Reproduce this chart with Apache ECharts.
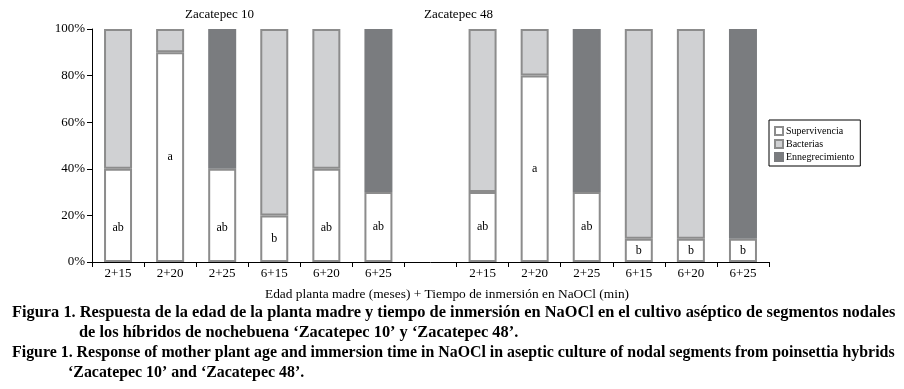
<!DOCTYPE html>
<html><head><meta charset="utf-8">
<script src="https://cdn.jsdelivr.net/npm/echarts@6/dist/echarts.min.js"></script>
<style>html,body{margin:0;padding:0;background:#fff}#c{width:904px;height:389px}</style>
</head><body><div id="c"></div>
<script>
const categories = ["2+15","2+20","2+25","6+15","6+20","6+25","","2+15","2+20","2+25","6+15","6+20","6+25"];
const supervivencia = [40,90,40,20,40,30,null,30,80,30,10,10,10];
const bacterias = [60,10,0,80,60,0,null,70,20,0,90,90,0];
const ennegrecimiento = [0,0,60,0,0,70,null,0,0,70,0,0,90];
const letters = ["ab","a","ab","b","ab","ab","","ab","a","ab","b","b","b"];
const groupTitles = ["Zacatepec 10","Zacatepec 48"];
const xAxisName = "Edad planta madre (meses) + Tiempo de inmersión en NaOCl (min)";
const captionLines = [
  "Figura 1. Respuesta de la edad de la planta madre y tiempo de inmersión en NaOCl en el cultivo aséptico de segmentos nodales",
  "de los híbridos de nochebuena ‘Zacatepec 10’ y ‘Zacatepec 48’.",
  "Figure 1. Response of mother plant age and immersion time in NaOCl in aseptic culture of nodal segments from poinsettia hybrids",
  "‘Zacatepec 10’ and ‘Zacatepec 48’."
];

const SERIF = '"Liberation Serif", "DejaVu Serif", serif';
const clean = v => (v === null || v === 0) ? '-' : v;

const chart = echarts.init(document.getElementById('c'), null, {renderer:'canvas'});
const barCommon = {type:'bar', stack:'t', barWidth:28, animation:false};

function capText(i, x, y, sx) {
  return {type:'text', x:x, y:y, scaleX:sx, style:{text:captionLines[i], font:'bold 17px '+SERIF, fill:'#000', verticalAlign:'middle'}};
}

chart.setOption({
  animation:false,
  grid:{left:92, right:135, top:29, bottom:127},
  legend:{
    orient:'vertical', left:769, top:120, icon:'rect', itemWidth:8, itemHeight:8, itemGap:3,
    borderColor:'#000', borderWidth:1, borderRadius:0, padding:[6,6,4,5],
    textStyle:{fontFamily:SERIF, fontSize:10, color:'#000', padding:[0,0,0,-2]},
    data:['Supervivencia','Bacterias','Ennegrecimiento']
  },
  xAxis:{
    type:'category', data:categories,
    axisLine:{lineStyle:{color:'#000', width:1}},
    axisTick:{show:true, length:5, lineStyle:{color:'#000'}, interval:0},
    axisLabel:{fontFamily:SERIF, fontSize:13, color:'#000', margin:5, interval:0}
  },
  yAxis:{
    type:'value', min:0, max:100, interval:20,
    splitLine:{show:false},
    axisLine:{show:true, lineStyle:{color:'#000', width:1}},
    axisTick:{show:true, length:5, lineStyle:{color:'#000'}},
    axisLabel:{formatter:'{value}%', fontFamily:SERIF, fontSize:13, color:'#000', margin:7}
  },
  series:[
    Object.assign({}, barCommon, {
      name:'Supervivencia',
      itemStyle:{color:'#ffffff', borderColor:'#8c8c8c', borderWidth:2},
      label:{show:true, position:'inside', fontFamily:SERIF, fontSize:12, color:'#000'},
      data: supervivencia.map((v,i)=>({value:clean(v), label:{formatter:letters[i], offset: v===40?[0,12]:[0,0]}}))
    }),
    Object.assign({}, barCommon, {
      name:'Bacterias',
      itemStyle:{color:'#d0d1d3', borderColor:'#8c8c8c', borderWidth:2},
      data: bacterias.map(clean)
    }),
    Object.assign({}, barCommon, {
      name:'Ennegrecimiento',
      itemStyle:{color:'#7a7c7f', borderColor:'#7a7c7f', borderWidth:2},
      data: ennegrecimiento.map(clean)
    })
  ],
  graphic:[
    {type:'text', x:185, y:15, style:{text:groupTitles[0], font:'13px '+SERIF, fill:'#000', verticalAlign:'middle'}},
    {type:'text', x:424, y:15, style:{text:groupTitles[1], font:'13px '+SERIF, fill:'#000', verticalAlign:'middle'}},
    {type:'text', x:265, y:295, scaleX:1.03, style:{text:xAxisName, font:'13px '+SERIF, fill:'#000', verticalAlign:'middle'}},
    capText(0, 12, 313, 0.963),
    capText(1, 79, 333, 0.963),
    capText(2, 12, 353, 0.935),
    capText(3, 68, 373, 0.935)
  ]
});
</script></body></html>
